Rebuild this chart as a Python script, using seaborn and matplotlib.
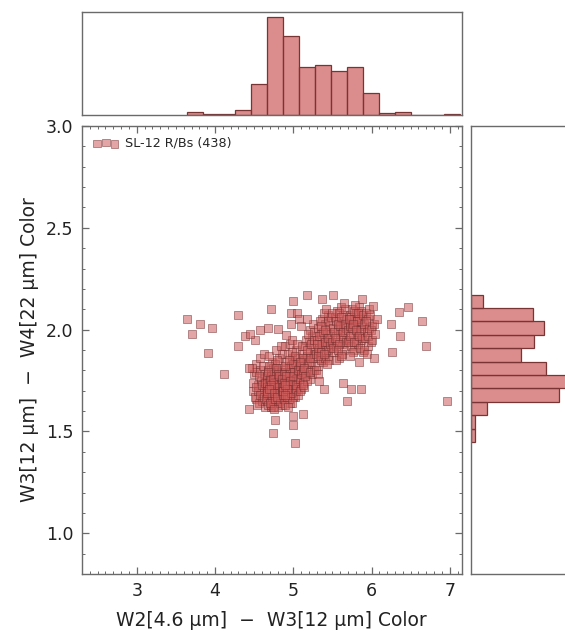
import numpy as np
import pandas as pd
import matplotlib
matplotlib.use("Agg")
import matplotlib.pyplot as plt
import seaborn as sns
from matplotlib.ticker import MultipleLocator

# ---------------- data ----------------
# lower cluster (W2-W3 ~ 4.5-5.1)
lower_x = [4.48,4.50,4.52,4.53,4.55,4.56,4.58,4.60,4.62,4.64,
           4.49,4.51,4.53,4.55,4.57,4.59,4.60,4.61,4.63,4.64,
           4.47,4.52,4.54,4.56,4.58,4.60,4.62,4.63,4.64,4.51,4.57,
           4.66,4.67,4.68,4.69,4.70,4.71,4.72,4.73,4.74,4.75,
           4.76,4.77,4.78,4.79,4.80,4.81,4.82,4.83,4.84,4.85,
           4.66,4.68,4.70,4.72,4.74,4.76,4.78,4.80,4.82,4.84,
           4.67,4.69,4.71,4.73,4.75,4.77,4.79,4.81,4.83,4.85,
           4.65,4.68,4.70,4.73,4.75,4.78,4.80,4.83,4.85,4.86,
           4.66,4.69,4.71,4.74,4.76,4.79,4.81,4.84,4.86,4.72,
           4.67,4.70,4.72,4.75,4.77,4.80,4.82,4.85,4.69,4.78,
           4.68,4.71,4.73,4.76,4.78,4.81,4.83,4.74,4.79,4.84,
           4.66,4.70,4.74,4.77,4.80,4.83,4.86,4.72,4.76,4.82,
           4.69,4.75,4.79,4.85,4.71,4.68,4.81,4.74,4.77,
           4.87,4.88,4.89,4.90,4.91,4.92,4.93,4.94,4.95,4.96,
           4.97,4.98,4.99,5.00,5.01,5.02,5.03,5.04,5.05,5.06,
           4.87,4.89,4.91,4.93,4.95,4.97,4.99,5.01,5.03,5.05,
           4.88,4.90,4.92,4.94,4.96,4.98,5.00,5.02,5.04,5.06,
           4.86,4.89,4.92,4.95,4.98,5.01,5.04,5.07,4.90,4.96,
           4.87,4.91,4.94,4.97,5.00,5.03,5.06,4.93,4.99,5.05,
           4.88,4.92,4.96,5.00,5.04,4.90,4.98,5.02,5.06,4.94,
           4.89,5.00,4.91,5.00,5.00,5.02,4.97,5.05,4.97,5.07]
lower_y = [1.70,1.78,1.66,1.83,1.73,1.64,1.80,1.69,1.76,1.62,
           1.74,1.67,1.79,1.70,1.86,1.75,1.65,1.82,1.71,1.78,
           1.81,1.72,1.63,1.77,1.68,1.73,1.67,1.88,1.74,1.95,2.00,
           1.72,1.65,1.80,1.68,1.75,1.62,1.70,1.84,1.66,1.77,
           1.69,1.73,1.64,1.79,1.71,1.67,1.86,1.74,1.70,1.63,
           1.77,1.70,1.66,1.75,1.81,1.72,1.68,1.76,1.65,1.79,
           1.68,1.74,1.79,1.64,1.71,1.83,1.75,1.69,1.73,1.88,
           1.66,1.63,1.73,1.69,1.67,1.77,1.62,1.71,1.76,1.68,
           1.74,1.82,1.68,1.72,1.65,1.70,1.80,1.67,1.74,1.77,
           1.70,1.76,1.63,1.78,1.72,1.66,1.73,1.81,1.87,1.90,
           1.79,1.71,1.67,1.74,1.81,1.73,1.69,1.62,1.85,1.92,
           1.69,1.64,1.76,1.66,1.78,1.64,1.72,1.73,1.61,1.77,
           1.71,1.69,1.67,1.70,2.10,2.01,2.005,1.494,1.557,
           1.72,1.66,1.79,1.70,1.84,1.75,1.68,1.81,1.73,1.64,
           1.77,1.70,1.86,1.74,1.80,1.67,1.76,1.83,1.72,1.78,
           1.68,1.75,1.71,1.88,1.66,1.82,1.69,1.73,1.90,1.75,
           1.78,1.63,1.74,1.70,1.79,1.72,1.67,1.84,1.70,1.86,
           1.76,1.82,1.67,1.77,1.64,1.79,1.76,1.81,1.92,1.93,
           1.70,1.77,1.73,1.69,1.83,1.71,1.68,1.62,1.95,1.93,
           1.74,1.71,1.75,1.77,1.73,1.68,1.89,1.87,1.80,1.85,
           1.73,2.14,1.975,1.576,1.53,1.445,2.08,2.08,2.03,2.05]

# bridge and upper cluster (W2-W3 ~ 5.1-6.1)
upper_x = [5.08,5.09,5.10,5.11,5.12,5.13,5.14,5.15,5.16,5.17,
           5.18,5.19,5.20,5.21,5.22,5.23,5.24,5.25,5.26,5.27,
           5.08,5.10,5.12,5.14,5.16,5.18,5.20,5.22,5.24,5.26,
           5.09,5.11,5.13,5.15,5.17,5.19,5.21,5.23,5.25,5.27,
           5.10,5.14,5.18,5.22,5.26,5.12,5.17,5.13,
           5.29,5.30,5.31,5.32,5.33,5.34,5.35,5.36,5.37,5.38,
           5.39,5.40,5.41,5.42,5.43,5.44,5.45,5.46,5.47,5.48,
           5.29,5.31,5.33,5.35,5.37,5.39,5.41,5.43,5.45,5.47,
           5.30,5.32,5.34,5.36,5.38,5.40,5.42,5.44,5.46,5.48,
           5.31,5.35,5.39,5.43,5.47,5.33,5.41,5.45,5.37,5.39,
           5.50,5.51,5.52,5.53,5.54,5.55,5.56,5.57,5.58,5.59,
           5.60,5.61,5.62,5.63,5.64,5.65,5.66,5.67,5.68,5.50,
           5.52,5.54,5.56,5.58,5.60,5.62,5.64,5.66,5.68,5.55,
           5.51,5.53,5.57,5.59,5.61,5.63,5.65,5.67,5.57,5.61,
           5.66,5.51,5.63,5.685,
           5.70,5.71,5.72,5.73,5.74,5.75,5.76,5.77,5.78,5.79,
           5.80,5.81,5.82,5.83,5.84,5.85,5.86,5.87,5.88,5.89,
           5.70,5.72,5.74,5.76,5.78,5.80,5.82,5.84,5.86,5.88,
           5.71,5.73,5.75,5.77,5.79,5.81,5.83,5.85,5.87,5.89,
           5.72,5.76,5.80,5.84,5.88,5.74,5.86,5.84,
           5.91,5.92,5.93,5.94,5.95,5.96,5.97,5.98,5.99,6.00,
           5.91,5.93,5.95,5.97,5.99,6.01,6.03,6.05,6.07,5.94,
           6.02,6.03]
upper_y = [1.76,1.82,1.71,1.88,1.79,1.74,1.85,1.92,1.78,1.83,
           1.87,1.80,1.94,1.76,1.89,1.83,1.97,1.86,1.91,1.80,
           1.70,1.78,1.86,1.72,1.95,1.75,1.84,2.00,1.78,1.88,
           1.84,1.92,1.80,1.77,1.90,1.98,1.86,1.93,2.03,1.95,
           2.02,1.81,2.05,1.79,1.99,1.73,2.17,1.585,
           1.88,1.95,1.82,2.01,1.91,1.86,1.98,1.93,2.05,1.84,
           1.96,1.89,2.03,1.92,1.99,2.07,1.87,1.95,2.02,1.91,
           1.80,1.90,1.97,1.85,1.93,2.08,1.86,1.94,2.04,1.98,
           1.93,1.78,2.04,1.89,1.99,1.94,2.10,1.90,1.85,2.06,
           1.87,2.02,1.88,1.83,1.93,1.75,2.00,1.96,2.15,1.71,
           1.94,2.01,1.89,2.06,1.97,1.92,2.09,2.00,1.86,2.04,
           1.98,2.11,1.93,2.02,2.07,1.90,1.99,2.05,1.95,2.08,
           1.99,2.04,1.94,2.08,2.02,1.88,1.96,2.10,2.01,1.85,
           1.91,1.96,2.03,1.93,2.06,1.99,2.13,1.94,1.90,1.87,
           2.03,2.17,1.74,1.65,
           2.00,1.95,2.07,2.03,1.92,2.10,1.98,2.05,1.90,2.02,
           2.08,1.97,2.04,1.93,2.11,2.00,1.95,2.06,2.02,1.89,
           1.94,2.02,2.06,1.89,2.09,1.94,1.99,2.05,2.09,1.96,
           2.05,1.97,2.01,1.94,2.12,2.04,2.08,1.91,2.00,2.07,
           1.87,2.03,2.00,1.97,2.15,1.71,1.71,1.84,
           2.03,1.96,2.08,1.99,2.05,1.92,2.01,2.07,1.94,2.02,
           1.90,2.04,1.97,2.10,2.00,1.95,2.03,1.98,2.05,1.88,
           2.115,1.86]

# sparse outliers
sparse_x = [3.64,3.81,3.96,3.71,3.91,4.11,4.30,4.30,4.38,4.43,4.44,4.45,
            6.25,6.26,6.35,6.37,6.47,6.64,6.70,6.97]
sparse_y = [2.05,2.03,2.01,1.98,1.885,1.78,2.07,1.92,1.97,1.61,1.81,1.98,
            2.03,1.89,2.087,1.97,2.11,2.044,1.92,1.65]

# marginal histogram counts
x_bin_start, x_bin_width = 3.64, 0.205
x_counts = [3, 1, 1, 5, 31, 99, 80, 48, 50, 44, 48, 22, 2, 3, 0, 0, 1]
y_bin_start, y_bin_width = 1.448, 0.0658
y_counts = [3, 3, 13, 71, 78, 60, 40, 51, 59, 50, 10]   # bottom -> top

label_text = "SL-12 R/Bs (438)"
xlabel = "W2[4.6 μm]  −  W3[12 μm] Color"
ylabel = "W3[12 μm]  −  W4[22 μm] Color"
x_ticks = [3, 4, 5, 6, 7]
y_ticks = [1.0, 1.5, 2.0, 2.5, 3.0]

# ---------------- plotting ----------------
sns.set_style("white")
plt.rcParams["font.family"] = ["DejaVu Sans"]

n = min(len(lower_x), len(lower_y))
m = min(len(upper_x), len(upper_y))
df = pd.concat([
    pd.DataFrame({"w23": lower_x[:n], "w34": lower_y[:n]}),
    pd.DataFrame({"w23": upper_x[:m], "w34": upper_y[:m]}),
    pd.DataFrame({"w23": sparse_x, "w34": sparse_y}),
], ignore_index=True)

x_edges = x_bin_start + x_bin_width * np.arange(len(x_counts) + 1)
hx = pd.DataFrame({"c": (x_edges[:-1] + x_edges[1:]) / 2, "n": x_counts})
y_edges = y_bin_start + y_bin_width * np.arange(len(y_counts) + 1)
hy = pd.DataFrame({"c": (y_edges[:-1] + y_edges[1:]) / 2, "n": y_counts})

W, H = 565, 631
fig = plt.figure(figsize=(W / 100, H / 100), dpi=100)
ax = fig.add_axes([82 / W, 1 - 574 / H, 379.5 / W, 448 / H])
ax_top = fig.add_axes([82 / W, 1 - 115 / H, 379.5 / W, 103 / H])
ax_right = fig.add_axes([471 / W, 1 - 574 / H, 102 / W, 448 / H])

spine_col = "#6a6a6a"
face = "indianred"
edge = "#6e2a2a"

sns.scatterplot(data=df, x="w23", y="w34", ax=ax, marker="s", s=31,
                color=face, edgecolor=edge, linewidth=0.6, alpha=0.55,
                label=label_text)

sns.histplot(data=hx, x="c", weights="n", bins=list(x_edges), ax=ax_top,
             color=face, alpha=0.7, edgecolor="#7a3434", linewidth=0.9)
sns.histplot(data=hy, y="c", weights="n", bins=list(y_edges), ax=ax_right,
             color=face, alpha=0.7, edgecolor="#7a3434", linewidth=0.9)

ax.set_xlim(2.3, 7.15)
ax.set_ylim(0.8, 3.0)
ax.set_xticks(x_ticks)
ax.set_yticks(y_ticks)
ax.xaxis.set_minor_locator(MultipleLocator(0.1))
ax.yaxis.set_minor_locator(MultipleLocator(0.1))
ax.tick_params(which="both", direction="in", top=True, right=True,
               bottom=True, left=True, color=spine_col, labelsize=12.5,
               labelcolor="#222222")
ax.tick_params(which="major", length=5, width=0.9, pad=6)
ax.tick_params(which="minor", length=2.5, width=0.7)
ax.set_xlabel(xlabel, fontsize=13.5, labelpad=8, color="#222222")
ax.set_ylabel(ylabel, fontsize=13.5, labelpad=5, color="#222222")

ax_top.set_xlim(2.3, 7.15)
ax_top.set_ylim(0, 104)
ax_right.set_ylim(0.8, 3.0)
ax_right.set_xlim(0, 82)
for a in (ax_top, ax_right):
    a.set_xticks([])
    a.set_yticks([])
    a.set_xlabel("")
    a.set_ylabel("")

for a in (ax, ax_top, ax_right):
    for sp in a.spines.values():
        sp.set_visible(True)
        sp.set_color(spine_col)
        sp.set_linewidth(1.0)

leg = ax.legend(loc="upper left", frameon=False, scatterpoints=3,
                fontsize=9.2, handletextpad=0.5, borderaxespad=0.45)

fig.savefig("out.png", dpi=100)
